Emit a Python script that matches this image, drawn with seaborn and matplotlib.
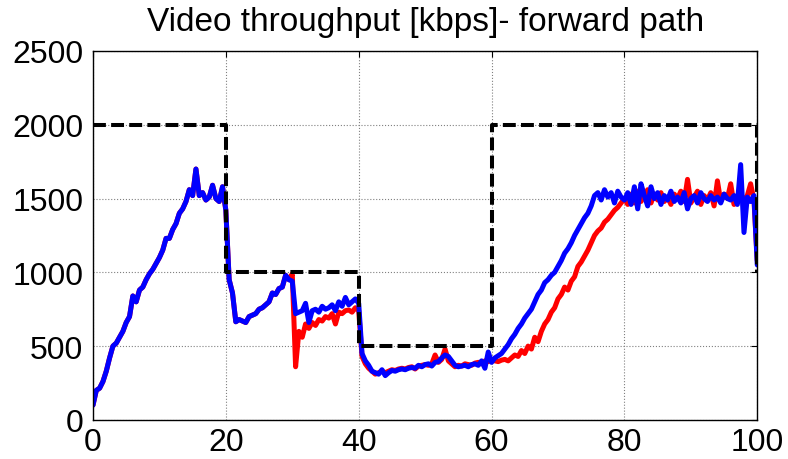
import numpy as np
import pandas as pd
import matplotlib
matplotlib.use("Agg")
import matplotlib.pyplot as plt
import seaborn as sns

# Time axis [s], sampled every 0.5 s
time_s = np.arange(0, 100.5, 0.5)

# Throughput of the first flow [kbps]
red_kbps = [
    100, 200, 215, 260, 330, 420, 500, 520, 560, 600,
    660, 700, 840, 800, 880, 900, 950, 990, 1020, 1060,
    1100, 1150, 1230, 1230, 1290, 1330, 1400, 1430, 1480, 1560,
    1520, 1700, 1520, 1540, 1490, 1510, 1590, 1500, 1480, 1580,
    1420, 950, 860, 665, 680, 670, 660, 700, 710, 720,
    750, 760, 780, 800, 860, 850, 890, 900, 980, 950,
    990, 360, 600, 560, 650, 620, 660, 640, 680, 670,
    700, 690, 720, 650, 730, 720, 740, 745, 730, 760,
    740, 430, 380, 350, 330, 310, 320, 330, 320, 330,
    340, 335, 345, 350, 345, 355, 360, 345, 365, 370,
    375, 370, 380, 440, 390, 410, 480, 400, 380, 360,
    370, 365, 380, 375, 370, 385, 390, 380, 400, 395,
    405, 400, 395, 405, 410, 400, 420, 440, 430, 470,
    450, 500, 480, 560, 530, 600, 650, 680, 730, 760,
    820, 850, 900, 880, 940, 970, 1040, 1070, 1110, 1150,
    1200, 1250, 1280, 1300, 1340, 1360, 1390, 1420, 1440, 1470,
    1500, 1460, 1530, 1470, 1550, 1480, 1520, 1560, 1470, 1530,
    1490, 1540, 1480, 1510, 1460, 1530, 1500, 1550, 1480, 1630,
    1470, 1510, 1550, 1460, 1520, 1490, 1540, 1450, 1620, 1480,
    1530, 1500, 1600, 1460, 1510, 1540, 1480, 1520, 1600, 1490,
    1080,
]

# Throughput of the second flow [kbps]
blue_kbps = [
    100, 200, 215, 260, 330, 420, 500, 520, 560, 600,
    660, 700, 840, 800, 880, 900, 950, 990, 1020, 1060,
    1100, 1150, 1230, 1230, 1290, 1330, 1400, 1430, 1480, 1560,
    1520, 1700, 1520, 1540, 1490, 1510, 1590, 1500, 1480, 1580,
    1420, 950, 860, 665, 680, 670, 660, 700, 710, 720,
    750, 760, 780, 800, 860, 850, 890, 900, 980, 950,
    940, 720, 730, 740, 790, 660, 740, 750, 730, 770,
    750, 760, 780, 740, 800, 770, 830, 780, 800, 820,
    790, 450, 400, 370, 330, 320, 310, 340, 300, 320,
    335, 330, 340, 345, 340, 350, 355, 350, 370, 360,
    375, 380, 365, 390, 395, 420, 440, 430, 400, 370,
    360, 365, 370, 360, 375, 380, 370, 400, 350, 460,
    390, 420, 435, 450, 480, 510, 550, 580, 620, 650,
    690, 720, 750, 800, 850, 880, 930, 950, 980, 1000,
    1040, 1080, 1130, 1160, 1200, 1250, 1290, 1330, 1370, 1400,
    1450, 1520, 1540, 1490, 1560, 1510, 1540, 1470, 1550, 1510,
    1490, 1540, 1460, 1580, 1430, 1600, 1520, 1450, 1580, 1500,
    1540, 1460, 1520, 1490, 1550, 1480, 1510, 1470, 1540, 1430,
    1500, 1520, 1470, 1540, 1500, 1480, 1520, 1490, 1510, 1470,
    1530, 1500, 1490, 1520, 1460, 1730, 1270, 1510, 1480, 1520,
    1050,
]

# Bottleneck capacity profile [kbps]
cap_time_s = [0, 20, 20, 40, 40, 60, 60, 100, 100]
cap_kbps = [2000, 2000, 1000, 1000, 500, 500, 2000, 2000, 1000]

x_ticks = [0, 20, 40, 60, 80, 100]
y_ticks = [0, 500, 1000, 1500, 2000, 2500]

flows = pd.DataFrame({"t": time_s, "red": red_kbps, "blue": blue_kbps})
capacity = pd.DataFrame({"t": cap_time_s, "kbps": cap_kbps})

sns.set_style("white")
plt.rcParams["font.family"] = ["Liberation Sans", "DejaVu Sans"]
plt.rcParams["text.color"] = "black"

fig = plt.figure(figsize=(7.88, 4.6), dpi=100)
ax = fig.add_axes([0.118, 0.085, 0.843, 0.802])

sns.lineplot(data=flows, x="t", y="red", color="#ff0000", lw=3.6,
             estimator=None, sort=False, ax=ax)
sns.lineplot(data=flows, x="t", y="blue", color="#0000ff", lw=3.6,
             estimator=None, sort=False, ax=ax)
sns.lineplot(data=capacity, x="t", y="kbps", color="black", lw=2.9,
             estimator=None, sort=False, ax=ax, dashes=False)
ax.lines[-1].set_dashes((3.2, 1.3))

ax.set_xlim(0, 100)
ax.set_ylim(0, 2500)
ax.set_xticks(x_ticks)
ax.set_yticks(y_ticks)
ax.set_xlabel("")
ax.set_ylabel("")
ax.grid(True, color="#808080", linestyle=":", linewidth=0.8)
ax.tick_params(direction="in", length=4, width=0.8, labelsize=23,
               top=True, right=True, colors="black", labelcolor="black")
ax.tick_params(axis="y", pad=7)
ax.tick_params(axis="x", pad=5)
for s in ax.spines.values():
    s.set_visible(True)
    s.set_color("black")
    s.set_linewidth(1.0)

ax.set_title("Video throughput [kbps]- forward path", fontsize=24,
             pad=15, color="black")

fig.savefig("out.png", dpi=100)
